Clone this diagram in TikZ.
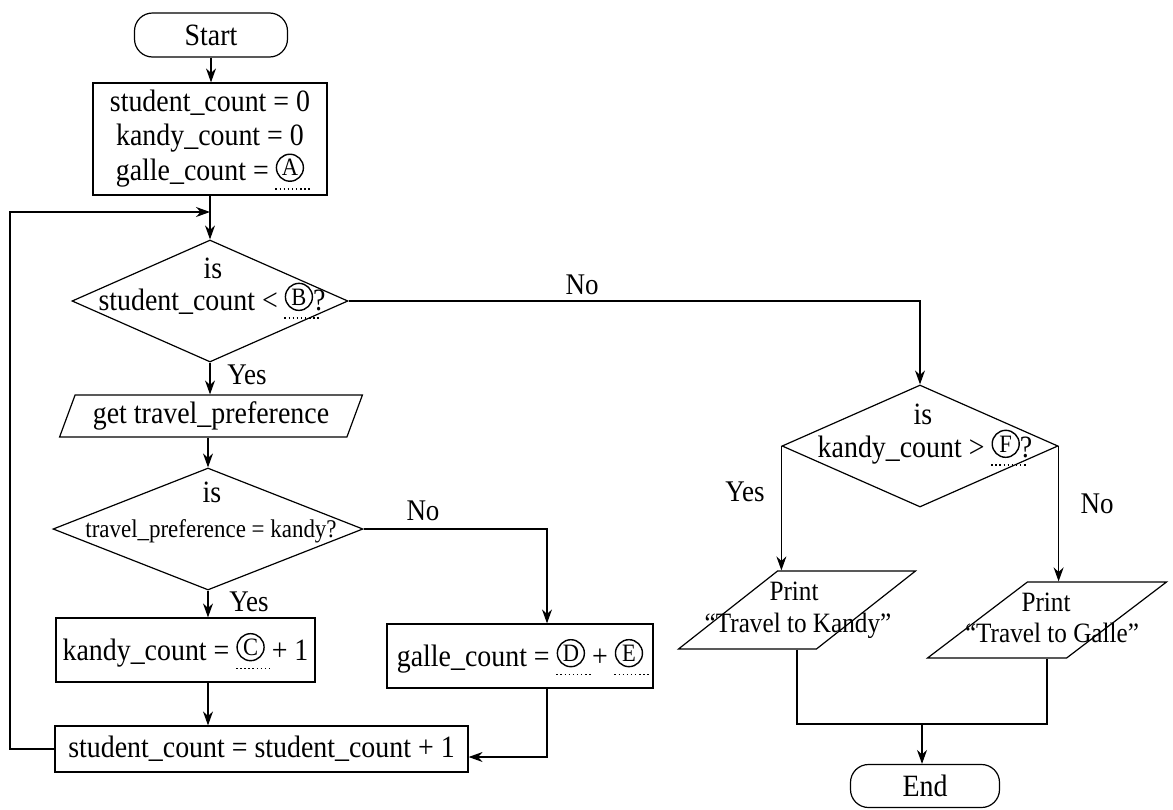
\documentclass[tikz,border=0pt]{standalone}
\usepackage{fontspec}
\setmainfont{Liberation Serif}[FakeStretch=0.9]
\usetikzlibrary{shapes.geometric,arrows.meta}
\newcommand{\mainfs}{\fontsize{31}{34}\selectfont}
\newcommand{\smallfs}{\fontsize{25.5}{28}\selectfont}
\newcommand{\printfs}{\fontsize{28}{31}\selectfont}
\newcommand{\labfs}{\fontsize{30}{32}\selectfont}
\newcommand{\cl}[1]{\tikz[baseline={([yshift=-5pt]cl.base)}]{\node[shape=circle,draw,solid,line width=1.4pt,inner sep=0pt,minimum width=27pt,minimum height=27pt,text width=,font=\fontsize{25}{25}\selectfont,anchor=center] (cl) {#1};\draw[overlay,line width=1.5pt,dash pattern=on 1.5pt off 2.6pt] ([xshift=-14.5pt,yshift=-7pt]cl.south) -- ([xshift=21pt,yshift=-7pt]cl.south);}}
\tikzset{
  box/.style={draw, line width=1.2pt, rectangle, inner sep=0pt},
  term/.style={draw, line width=1.2pt, rectangle, rounded corners=18pt, inner sep=0pt, minimum width=153pt, minimum height=44pt, font=\mainfs},
  dec/.style={draw, line width=1.2pt, shape=diamond, inner sep=1pt},
  io/.style={draw, line width=1.2pt, shape=trapezium, trapezium stretches=true, inner sep=1pt},
  txt/.style={anchor=base, inner sep=0pt, font=\mainfs},
  lab/.style={anchor=base, inner sep=0pt, font=\labfs},
  arr/.style={line width=1.2pt, -{Stealth[length=14pt,width=10pt]}},
  ln/.style={line width=1.2pt},
}
\begin{document}
\begin{tikzpicture}[x=1pt,y=-1pt]
\useasboundingbox (0,0) rectangle (1173,809);
% left column
\node[term] (start) at (211,35) {Start};
\node[box, minimum width=234pt, minimum height=112pt, align=center, font=\mainfs] (init) at (210,139) {student\_count = 0\\ kandy\_count = 0\\ galle\_count = \cl{A}};
\coordinate (j) at (210,212);
\node[dec, minimum width=276pt, minimum height=122pt] (d1) at (210,301) {\strut};
\node[txt] (d1a) at (213,278) {is};
\node[txt] (d1b) at (212,310) {student\_count < \cl{B}?};
\node[io, trapezium left angle=66, trapezium right angle=114, minimum width=304pt, minimum height=42pt, font=\mainfs] (get) at (211,416) {get travel\_preference};
\node[dec, minimum width=310pt, minimum height=122pt] (d2) at (208,529) {\strut};
\node[txt] (d2a) at (212,502) {is};
\node[txt, font=\smallfs] (d2b) at (211,537) {travel\_preference = kandy?};
\node[box, minimum width=259pt, minimum height=64pt, font=\mainfs] (kc) at (185.5,650) {kandy\_count = \cl{C} + 1};
\node[box, minimum width=266pt, minimum height=64pt, font=\mainfs] (gc) at (520,656) {galle\_count = \cl{D} + \cl{E}};
\node[box, minimum width=413pt, minimum height=46pt, font=\mainfs] (sc) at (261.5,749) {student\_count = student\_count + 1};
% right column
\node[dec, minimum width=276pt, minimum height=122pt] (d3) at (920,446) {\strut};
\node[txt] (d3a) at (923,424) {is};
\node[txt] (d3b) at (925,457) {kandy\_count > \cl{F}?};
\node[io, trapezium left angle=70, trapezium right angle=110, minimum width=237pt, minimum height=78pt] (p1) at (797,610) {\strut};
\node[txt, font=\printfs] (p1a) at (794,600) {Print};
\node[txt, font=\printfs] (p1b) at (798,632) {“Travel to Kandy”};
\node[io, trapezium left angle=70, trapezium right angle=110, minimum width=239pt, minimum height=76pt] (p2) at (1047,620) {\strut};
\node[txt, font=\printfs] (p2a) at (1046,611) {Print};
\node[txt, font=\printfs] (p2b) at (1052,642) {“Travel to Galle”};
\node[term, minimum width=149pt, minimum height=43pt] (end) at (925,786) {End};
% labels
\node[lab] (ly1) at (247,384) {Yes};
\node[lab] (ln1) at (582,294) {No};
\node[lab] (ly2) at (249,611) {Yes};
\node[lab] (ln2) at (423,520) {No};
\node[lab] (ly3) at (745,501) {Yes};
\node[lab] (ln3) at (1097,513) {No};
% coordinates
\coordinate (lp) at (10,749);
\coordinate (c1) at (920,301);
\coordinate (c2) at (547,529);
\coordinate (c3) at (547,757);
\coordinate (m) at (922,724);
% connectors
\draw[arr] (start.south) -- (start.south |- init.north);
\draw[arr] (init.south) -- (d1.north);
\draw[arr] (sc.west) -- (lp) |- (j);
\draw[arr] (d1.south) -- (d1.south |- get.north);
\draw[arr] (d2.north |- get.south) -- (d2.north);
\draw[arr] (d2.south) -- (d2.south |- kc.north);
\draw[arr] (d2.east) -- (c2) -- (c2 |- gc.north);
\draw[arr] (d2.south |- kc.south) -- (d2.south |- sc.north);
\draw[arr] (c3 |- gc.south) -- (c3) -- (c3 -| sc.east);
\draw[arr] (d1.east) -- (c1) -- (d3.north);
\draw[arr] (d3.west) -- (d3.west |- p1.north);
\draw[arr] (d3.east) -- (d3.east |- p2.north);
\draw[ln] (p1.south) -- (p1.south |- m) -- (p2.south |- m) -- (p2.south);
\draw[arr] (m) -- (m |- end.north);
\end{tikzpicture}
\end{document}
